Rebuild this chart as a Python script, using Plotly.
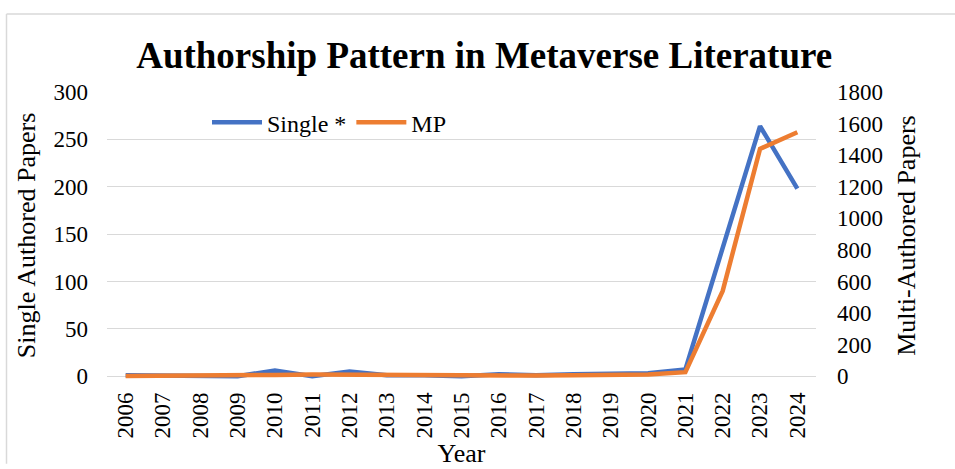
import plotly.graph_objects as go

years = [str(y) for y in range(2006, 2025)]
single = [1, 1, 1, 0, 6, 0, 5, 1, 1, 0, 2, 1, 2, 2, 3, 7, 135, 264, 198]
mp = [1, 1, 2, 3, 8, 10, 8, 6, 5, 4, 5, 4, 6, 6, 10, 25, 540, 1440, 1545]

BLUE = "#4472C4"
ORANGE = "#ED7D31"
GRID = "#D9D9D9"
FONT = "Liberation Serif, Times New Roman, serif"

W, H = 955, 469
L, R, T, B = 107, 816, 92, 383  # plot area in pixels


def px_x(p):
    return (p - L) / (R - L)


def px_y(p):
    return (B - p) / (B - T)


fig = go.Figure()
fig.add_trace(go.Scatter(x=years, y=single, name="Single *", mode="lines",
                         line=dict(color=BLUE, width=4.5), yaxis="y"))
fig.add_trace(go.Scatter(x=years, y=mp, name="MP", mode="lines",
                         line=dict(color=ORANGE, width=4.5), yaxis="y2"))

border = dict(color=GRID, width=1.5)

fig.update_layout(
    width=W, height=H,
    margin=dict(l=L, r=W - R, t=T, b=H - B),
    paper_bgcolor="white", plot_bgcolor="white",
    font=dict(family=FONT, color="black", size=23),
    title=dict(text="<b>Authorship Pattern in Metaverse Literature</b>",
               font=dict(size=37, family=FONT, color="black"),
               x=0.507, xref="container", xanchor="center",
               y=1 - 55 / H, yref="container", yanchor="middle"),
    xaxis=dict(type="category", range=[-0.5, 18.5], tickangle=-90,
               showgrid=False, showline=False, zeroline=False,
               ticks="", ticklabelstandoff=8,
               tickfont=dict(size=23),
               title=dict(text="Year", font=dict(size=26), standoff=0)),
    yaxis=dict(range=[-3, 300], tick0=0, dtick=50, showgrid=True, gridcolor=GRID,
               gridwidth=1, zeroline=False, showline=False, ticks="",
               ticklabelstandoff=18, tickfont=dict(size=23),
               title=dict(text="Single Authored Papers", font=dict(size=26), standoff=10)),
    yaxis2=dict(range=[-18, 1800], tick0=0, dtick=200, overlaying="y", side="right",
                showgrid=False, zeroline=False, showline=False, ticks="",
                ticklabelstandoff=20, tickfont=dict(size=23),
                title=dict(text="Multi-Authored Papers", font=dict(size=26), standoff=14)),
    legend=dict(orientation="h", x=px_x(207), y=px_y(123), xanchor="left", yanchor="middle",
                font=dict(size=24), bgcolor="rgba(0,0,0,0)", itemwidth=50,
                tracegroupgap=0),
    showlegend=True,
    shapes=[
        dict(type="line", xref="paper", yref="paper",
             x0=px_x(6.5), x1=px_x(6.5), y0=px_y(469), y1=px_y(13), line=border, layer="below"),
        dict(type="line", xref="paper", yref="paper",
             x0=px_x(6.5), x1=px_x(955), y0=px_y(13), y1=px_y(13), line=border, layer="below"),
    ],
)

fig.write_html(
    "out.html",
    config={"displayModeBar": False},
    post_script="document.body.style.margin='0';document.body.style.overflow='hidden';"
                "document.documentElement.style.overflow='hidden';",
)
